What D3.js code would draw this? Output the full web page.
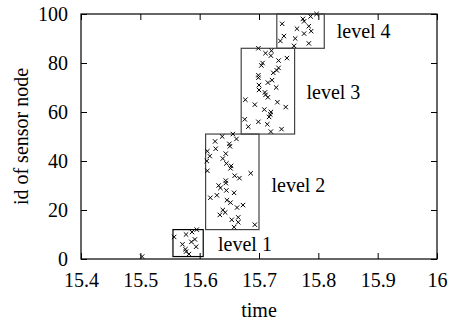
<!DOCTYPE html>
<html>
<head>
<meta charset="utf-8">
<script src="https://cdn.jsdelivr.net/npm/d3@7"></script>
<style>
  body { margin: 0; background: #fff; }
  svg { font-family: "Liberation Serif", "DejaVu Serif", serif; }
</style>
</head>
<body>
<svg id="chart" width="454" height="322"></svg>
<script>
// sensor nodes: time each node fired, and its id
const times = [
  15.503,
  15.557, 15.577, 15.587, 15.595, 15.571, 15.586, 15.592, 15.576, 15.577, 15.582, 15.594,
  15.656, 15.638, 15.626, 15.662, 15.613, 15.617, 15.650, 15.651, 15.627, 15.612, 15.644, 15.639,
  15.645, 15.653, 15.652, 15.613, 15.686, 15.659, 15.667, 15.644, 15.644, 15.632, 15.635, 15.645,
  15.658, 15.629, 15.618, 15.646, 15.652, 15.673, 15.663, 15.639, 15.643, 15.634, 15.665, 15.654,
  15.665, 15.693, 15.658,
  15.720, 15.738, 15.682, 15.714, 15.699, 15.676, 15.717, 15.719, 15.720, 15.709, 15.745, 15.693,
  15.731, 15.677, 15.715, 15.711, 15.710, 15.700, 15.729, 15.700, 15.715, 15.722, 15.699, 15.699,
  15.724, 15.730, 15.733, 15.704, 15.706, 15.733, 15.747, 15.720, 15.711, 15.721, 15.699,
  15.759, 15.784, 15.736, 15.761, 15.742, 15.776, 15.788, 15.764, 15.784, 15.739, 15.776, 15.774,
  15.787, 15.797
];
const ids = [
  1,
  9, 10, 11, 12, 6, 7, 8, 4, 3, 2, 5,
  51, 50, 48, 49, 44, 42, 47, 46, 45, 40, 43, 41,
  39, 38, 37, 36, 35, 34, 33, 32, 31, 30, 29, 28,
  27, 26, 25, 24, 23, 22, 21, 20, 19, 18, 17, 16,
  15, 14, 13,
  52, 53, 54, 55, 56, 57, 58, 59, 60, 61, 62, 63,
  64, 65, 66, 67, 68, 69, 70, 71, 72, 73, 74, 75,
  76, 77, 78, 79, 80, 81, 82, 83, 84, 85, 86,
  87, 88, 89, 90, 91, 92, 93, 94, 95, 96, 97, 98,
  99, 100
];

// level boxes and their labels
const levelNames = ["level 1", "level 2", "level 3", "level 4"];
const levelT0 = [15.555, 15.610, 15.670, 15.730];
const levelT1 = [15.606, 15.700, 15.760, 15.810];
const levelId0 = [1, 12, 51, 86];
const levelId1 = [12, 51, 86, 100];
const labelT = [15.631, 15.721, 15.780, 15.831];
const labelId = [3.1, 27.2, 65.5, 90.1];

const xTicks = [15.4, 15.5, 15.6, 15.7, 15.8, 15.9, 16];
const yTicks = [0, 20, 40, 60, 80, 100];

const width = 454, height = 322;
const svg = d3.select("#chart");

const x = d3.scaleLinear().domain([15.4, 16]).range([81, 437]);
const y = d3.scaleLinear().domain([0, 100]).range([259, 14]);

const fmt = d => d === 16 ? "16" : d3.format(".1f")(d);
const fs = 20;

// axes, ticks pointing inward like gnuplot
const bottomAxis = svg.append("g")
  .attr("transform", `translate(0,${y(0)})`)
  .call(d3.axisBottom(x).tickValues(xTicks).tickFormat(fmt).tickSize(-6).tickPadding(14));
const topAxis = svg.append("g")
  .attr("transform", `translate(0,${y(100)})`)
  .call(d3.axisTop(x).tickValues(xTicks).tickFormat("").tickSize(-6));
const leftAxis = svg.append("g")
  .attr("transform", `translate(${x(15.4)},0)`)
  .call(d3.axisLeft(y).tickValues(yTicks).tickSize(-6).tickPadding(13));
const rightAxis = svg.append("g")
  .attr("transform", `translate(${x(16)},0)`)
  .call(d3.axisRight(y).tickValues(yTicks).tickFormat("").tickSize(-6));

[bottomAxis, topAxis, leftAxis, rightAxis].forEach(g => {
  g.select(".domain").remove();
  g.selectAll("line").attr("stroke", "#000");
  g.selectAll("text").attr("font-size", fs).attr("fill", "#000")
    .style("font-family", "Liberation Serif, serif");
});

svg.append("rect")
  .attr("x", x(15.4)).attr("y", y(100))
  .attr("width", x(16) - x(15.4)).attr("height", y(0) - y(100))
  .attr("fill", "none").attr("stroke", "#000").attr("stroke-width", 1.2);

// level boxes
svg.append("g").selectAll("rect")
  .data(levelNames)
  .join("rect")
  .attr("x", (d, i) => x(levelT0[i]))
  .attr("y", (d, i) => y(levelId1[i]))
  .attr("width", (d, i) => x(levelT1[i]) - x(levelT0[i]))
  .attr("height", (d, i) => y(levelId0[i]) - y(levelId1[i]))
  .attr("fill", "none")
  .attr("stroke", (d, i) => i === 0 ? "#000" : "#444")
  .attr("stroke-width", 1.2);

svg.append("g").selectAll("text")
  .data(levelNames)
  .join("text")
  .attr("x", (d, i) => x(labelT[i]))
  .attr("y", (d, i) => y(labelId[i]))
  .attr("font-size", fs)
  .text(d => d);

// points as small crosses
const s = 2.2;
svg.append("g").selectAll("path")
  .data(times)
  .join("path")
  .attr("d", (d, i) => {
    const px = x(d), py = y(ids[i]);
    return `M${px - s},${py - s}L${px + s},${py + s}M${px - s},${py + s}L${px + s},${py - s}`;
  })
  .attr("stroke", "#000")
  .attr("stroke-width", 1);

// axis titles
svg.append("text")
  .attr("x", (x(15.4) + x(16)) / 2)
  .attr("y", 317)
  .attr("text-anchor", "middle")
  .attr("font-size", fs)
  .text("time");

svg.append("text")
  .attr("transform", `translate(28,${(y(0) + y(100)) / 2}) rotate(-90)`)
  .attr("text-anchor", "middle")
  .attr("font-size", fs)
  .text("id of sensor node");
</script>
</body>
</html>
